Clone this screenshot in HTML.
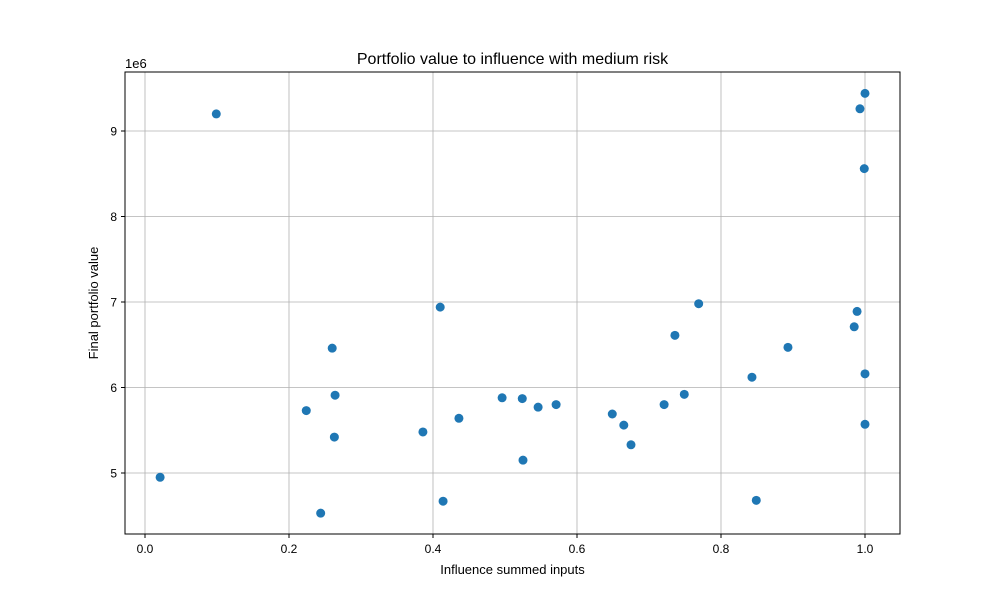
<!DOCTYPE html>
<html><head><meta charset="utf-8"><style>
body{margin:0;background:#fff}
svg text{font-family:"Liberation Sans","DejaVu Sans",sans-serif;fill:#000}
</style></head><body>
<svg id="chart" width="1000" height="600" xmlns="http://www.w3.org/2000/svg">
<rect width="1000" height="600" fill="#fff"/>
<g id="grid"></g>
<g id="ticks"></g>
<g id="points"></g>
<rect x="125" y="72" width="775" height="462" fill="none" stroke="#000" stroke-width="1"/>
<text x="512.5" y="64" font-size="16" text-anchor="middle">Portfolio value to influence with medium risk</text>
<text x="512.5" y="574" font-size="13" text-anchor="middle">Influence summed inputs</text>
<text transform="translate(98,303) rotate(-90)" font-size="13" text-anchor="middle">Final portfolio value</text>
<text x="125" y="68" font-size="13">1e6</text>
</svg>
<script>
const xVals=[0.099,0.021,0.224,0.264,0.263,0.260,0.244,0.386,0.410,0.436,0.414,0.496,0.524,0.546,0.571,0.525,0.649,0.665,0.675,0.721,0.749,0.736,0.769,0.843,0.849,0.893,0.985,0.989,0.993,1.0,0.999,1.0,1.0];
const yVals=[9.20,4.95,5.73,5.91,5.42,6.46,4.53,5.48,6.94,5.64,4.67,5.88,5.87,5.77,5.80,5.15,5.69,5.56,5.33,5.80,5.92,6.61,6.98,6.12,4.68,6.47,6.71,6.89,9.26,9.44,8.56,6.16,5.57];
const xTicks=[0.0,0.2,0.4,0.6,0.8,1.0];
const yTicks=[5,6,7,8,9];
const xs=v=>145+v*720;
const ys=v=>473-(v-5)*85.5;
const NS="http://www.w3.org/2000/svg";
const grid=document.getElementById('grid'),ticks=document.getElementById('ticks'),pts=document.getElementById('points');
function mk(tag,attrs,parent){const e=document.createElementNS(NS,tag);for(const k in attrs)e.setAttribute(k,attrs[k]);parent.appendChild(e);return e;}
xTicks.forEach(t=>{const x=xs(t);
 const g=mk('line',{x1:x,x2:x,y1:72,y2:534,stroke:'#b0b0b0','stroke-width':0.8},grid);
 
 
 mk('line',{x1:x,x2:x,y1:534,y2:538,stroke:'#000'},ticks);
 const l=mk('text',{x:x,y:553,'font-size':12,'text-anchor':'middle'},ticks);l.textContent=t.toFixed(1);
 
 
});
yTicks.forEach(t=>{const y=ys(t);
 const g=mk('line',{x1:125,x2:900,y1:y,y2:y,stroke:'#b0b0b0','stroke-width':0.8},grid);
 
 
 mk('line',{x1:121,x2:125,y1:y,y2:y,stroke:'#000'},ticks);
 const l=mk('text',{x:117,y:y+4.5,'font-size':12,'text-anchor':'end'},ticks);l.textContent=t;
 
 
});
xVals.forEach((v,i)=>{
 const c=mk('circle',{cx:xs(v),cy:ys(yVals[i]),r:4.5,fill:'#1f77b4'},pts);
 
 
});
</script>
</body></html>
